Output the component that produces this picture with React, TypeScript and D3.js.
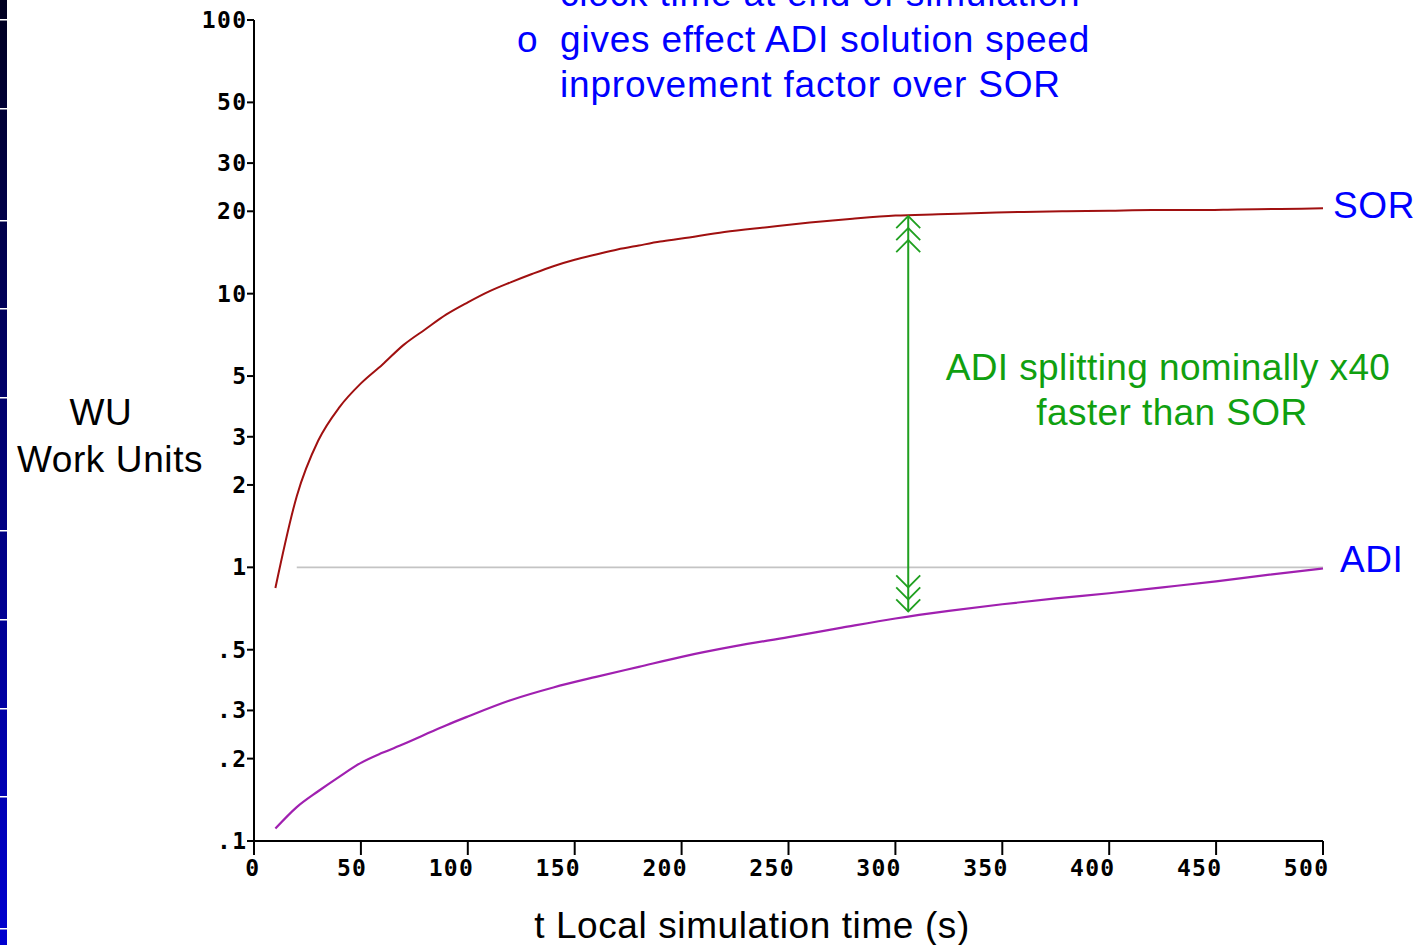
import React from "react";
import * as d3 from "d3";

// ---- data ----
const sorTime = [10, 20, 30, 40, 50, 60, 70, 80, 90, 100, 110, 120, 130, 140, 150, 160, 170, 180, 190, 200, 220, 240, 260, 280, 300, 320, 340, 360, 380, 400, 420, 440, 460, 480, 500];
const sorWU = [0.84, 1.82, 2.9, 3.85, 4.7, 5.5, 6.5, 7.4, 8.4, 9.3, 10.2, 11.0, 11.8, 12.6, 13.3, 13.9, 14.5, 15.0, 15.5, 15.9, 16.8, 17.5, 18.2, 18.8, 19.3, 19.5, 19.7, 19.9, 20.0, 20.1, 20.2, 20.2, 20.3, 20.4, 20.5];
const adiTime = [10, 20, 30, 40, 50, 60, 70, 80, 90, 100, 120, 140, 160, 180, 200, 225, 250, 275, 300, 325, 350, 375, 400, 425, 450, 475, 500];
const adiWU = [0.111, 0.133, 0.152, 0.172, 0.193, 0.21, 0.226, 0.245, 0.265, 0.285, 0.327, 0.364, 0.398, 0.433, 0.471, 0.515, 0.556, 0.602, 0.65, 0.693, 0.733, 0.77, 0.804, 0.845, 0.889, 0.94, 0.99];
const refTime = [20, 500];
const refWU = [1, 1];
const arrowTime = 306;
const arrowWU = [19.2, 0.69];

const xTicks = [0, 50, 100, 150, 200, 250, 300, 350, 400, 450, 500];
const yTicks = [100, 50, 30, 20, 10, 5, 3, 2, 1, 0.5, 0.3, 0.2, 0.1];
const yTickLabels = ["100", "50", "30", "20", "10", "5", "3", "2", "1", ".5", ".3", ".2", ".1"];

const topLines = ["clock time at end of simulation", "gives effect ADI solution speed", "inprovement factor over SOR"];
const noteLines = ["ADI splitting nominally x40", "faster than SOR"];
const sideBarSeps = [19, 108, 220, 308, 397, 530, 619, 708, 796, 928];

export default function App() {
  const W = 1417, H = 945;
  const x = d3.scaleLinear().domain([0, 500]).range([254, 1323]);
  const y = d3.scaleLog().domain([0.1, 100]).range([841, 20]);
  const line = d3.line<[number, number]>().x(d => x(d[0])).y(d => y(d[1])).curve(d3.curveMonotoneX);
  const straight = d3.line<[number, number]>().x(d => x(d[0])).y(d => y(d[1]));
  const sorPath = line(sorTime.map((t, i) => [t, sorWU[i]]))!;
  const adiPath = line(adiTime.map((t, i) => [t, adiWU[i]]))!;
  const refPath = straight(refTime.map((t, i) => [t, refWU[i]]))!;

  const ax = x(arrowTime);
  const aTop = y(arrowWU[0]);
  const aBot = y(arrowWU[1]);
  const chev = (tipY: number, dir: number) =>
    [0, 12, 24].map(o => {
      const ty = tipY + dir * o;
      return `M${ax - 12},${ty + dir * 12}L${ax},${ty}L${ax + 12},${ty + dir * 12}`;
    }).join("");

  const sansFont = "'Liberation Sans', Arial, sans-serif";
  const ls = 0.6;
  const monoLS = 1.3;
  const monoStyle: React.CSSProperties = { fontFamily: "'DejaVu Sans Mono', monospace", fontWeight: "bold", fontSize: 23, letterSpacing: monoLS };

  return (
    <svg width={W} height={H} style={{ position: "absolute", left: 0, top: 0, background: "#fff" }}>
      <defs>
        <linearGradient id="sidebar" x1="0" y1="0" x2="0" y2="1">
          <stop offset="0" stopColor="#000020" />
          <stop offset="1" stopColor="#0000d0" />
        </linearGradient>
      </defs>
      <rect x={0} y={0} width={7} height={H} fill="url(#sidebar)" />
      {sideBarSeps.map((s, i) => (
        <rect key={i} x={0} y={s} width={7} height={1.5} fill="#fff" />
      ))}

      {/* reference line at 1 */}
      <path d={refPath} stroke="#c4c4c4" strokeWidth={1.6} fill="none" />

      {/* curves */}
      <path d={sorPath} stroke="#a01010" strokeWidth={2} fill="none" />
      <path d={adiPath} stroke="#a020b0" strokeWidth={2.2} fill="none" />

      {/* arrow */}
      <line x1={ax} x2={ax} y1={aTop} y2={aBot} stroke="#20a020" strokeWidth={2} />
      <path d={chev(aTop, 1)} stroke="#20a020" strokeWidth={1.8} fill="none" />
      <path d={chev(aBot, -1)} stroke="#20a020" strokeWidth={1.8} fill="none" />

      {/* axes */}
      <line x1={254} x2={254} y1={y(100)} y2={y(0.1)} stroke="#000" strokeWidth={2} />
      <line x1={x(0)} x2={x(500)} y1={841} y2={841} stroke="#000" strokeWidth={2} />
      {yTicks.map((v, i) => (
        <g key={v}>
          <line x1={247} x2={254} y1={y(v)} y2={y(v)} stroke="#000" strokeWidth={2} />
          <text x={246 + monoLS} y={y(v) + 8} textAnchor="end" style={monoStyle} fill="#000">{yTickLabels[i]}</text>
        </g>
      ))}
      {xTicks.map(v => (
        <g key={v}>
          <line x1={x(v)} x2={x(v)} y1={841} y2={855} stroke="#000" strokeWidth={2} />
          <text x={x(v) + 5 + monoLS} y={876} textAnchor="end" style={monoStyle} fill="#000">{v}</text>
        </g>
      ))}

      {/* axis titles */}
      <text x={101} y={425} textAnchor="middle" fontFamily={sansFont} fontSize={37} letterSpacing={ls} fill="#000">WU</text>
      <text x={110} y={472} textAnchor="middle" fontFamily={sansFont} fontSize={37} letterSpacing={ls} fill="#000">Work Units</text>
      <text x={752} y={938} textAnchor="middle" fontFamily={sansFont} fontSize={37} letterSpacing={ls} fill="#000">t Local simulation time (s)</text>

      {/* top note */}
      <text x={517} y={52} fontFamily={sansFont} fontSize={37} fill="#0000ff">o</text>
      {topLines.map((t, i) => (
        <text key={i} x={560} y={6 + i * 45.5} fontFamily={sansFont} fontSize={37} letterSpacing={0.8} fill="#0000ff">{t}</text>
      ))}

      {/* series labels */}
      <text x={1333} y={218} fontFamily={sansFont} fontSize={37} letterSpacing={ls} fill="#0000ff">SOR</text>
      <text x={1340} y={572} fontFamily={sansFont} fontSize={37} letterSpacing={ls} fill="#0000ff">ADI</text>

      {/* green note */}
      {noteLines.map((t, i) => (
        <text key={i} x={i === 0 ? 1168 : 1172} y={380 + i * 45} textAnchor="middle" fontFamily={sansFont} fontSize={37} letterSpacing={0.4} fill="#10a010">{t}</text>
      ))}
    </svg>
  );
}
